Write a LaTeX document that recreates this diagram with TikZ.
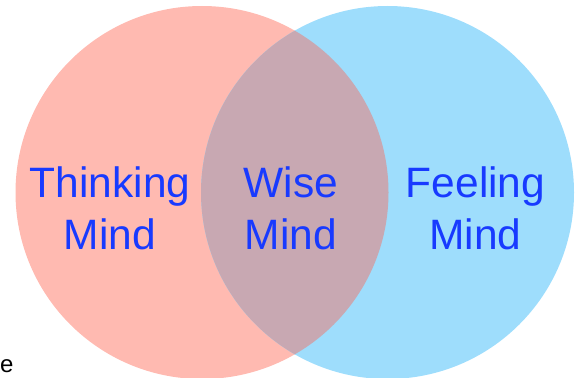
\documentclass[tikz,border=0pt]{standalone}
\usepackage{fontspec}
\usepackage{xcolor}
\usepackage{tikz}
\newfontfamily\mindfont{Liberation Sans}
\definecolor{thinkpink}{RGB}{255,186,177}
\definecolor{feelblue}{RGB}{158,221,252}
\definecolor{wisemauve}{RGB}{200,168,178}
\definecolor{mindblue}{RGB}{24,58,255}

\begin{document}
\begin{tikzpicture}[x=1pt, y=-1pt,
  mindset/.style={circle, minimum size=373pt, inner sep=0pt},
  lab/.style={font=\mindfont\fontsize{42.5}{52}\selectfont, text=mindblue,
              align=center, inner sep=0pt}]
\useasboundingbox (0,0) rectangle (580,377);
\node[mindset, fill=thinkpink] (thinking) at (202,192.5) {};
\node[mindset, fill=feelblue] (feeling) at (387.5,192.5) {};
% overlap of the two circles
\begin{scope}
  \clip (thinking.center) circle (186.5);
  \fill[wisemauve] (feeling.center) circle (186.5);
\end{scope}
\node[lab] (thinklab) at (110,208) {Thinking\\Mind};
\node[lab] (wiselab) at (291,208) {Wise\\Mind};
\node[lab] (feellab) at (475.5,208) {Feeling\\Mind};
% stray letter at the lower left
\node[font=\mindfont\fontsize{24}{28}\selectfont, anchor=north west,
      inner sep=0pt] (stray) at (0,359) {e};
\end{tikzpicture}
\end{document}
